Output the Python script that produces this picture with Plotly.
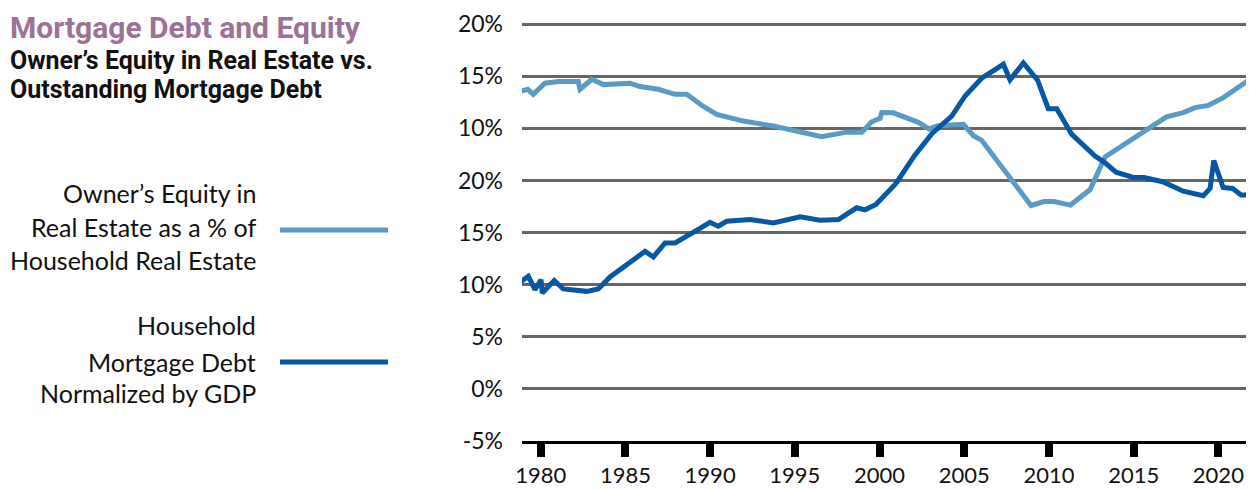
import plotly.graph_objects as go

# Owner's equity share (values on the chart's stacked-label scale)
equity_years = [1978.66, 1979.23, 1979.56, 1980.25, 1981.04, 1982.22, 1982.32, 1983.01,
                1983.70, 1985.27, 1985.86, 1986.94, 1987.93, 1988.62, 1989.58, 1990.39,
                1991.96, 1993.73, 1996.59, 1998.06, 1998.95, 1999.54, 2000.03, 2000.13,
                2000.81, 2002.29, 2002.92, 2003.45, 2004.95, 2005.54, 2006.03, 2008.39,
                2008.94, 2009.71, 2010.30, 2011.27, 2012.43, 2013.31, 2016.94, 2017.93,
                2018.62, 2019.41, 2020.30, 2021.87]
equity_vals = [28.49, 28.75, 28.27, 29.33, 29.49, 29.49, 28.75, 29.71,
               29.20, 29.33, 29.01, 28.75, 28.27, 28.27, 27.12, 26.35,
               25.70, 25.22, 24.20, 24.64, 24.64, 25.63, 25.96, 26.51,
               26.49, 25.58, 24.95, 25.26, 25.38, 24.30, 23.85, 18.65,
               17.60, 17.98, 17.98, 17.64, 19.13, 22.26, 26.11, 26.51,
               26.99, 27.21, 27.95, 29.71]

# Household mortgage debt normalized by GDP
debt_years = [1978.78, 1979.27, 1979.66, 1980.02, 1980.09, 1980.80, 1981.33, 1982.72,
              1983.40, 1984.09, 1986.16, 1986.65, 1987.34, 1987.93, 1989.40, 1989.99,
              1990.48, 1990.98, 1992.36, 1993.73, 1995.31, 1996.49, 1997.57, 1998.65,
              1999.14, 1999.79, 2000.97, 2002.04, 2003.10, 2004.26, 2005.05, 2006.03,
              2007.31, 2007.70, 2008.49, 2009.33, 2009.96, 2010.46, 2011.35, 2012.72,
              2013.31, 2013.96, 2014.98, 2015.61, 2016.71, 2017.93, 2019.11, 2019.51,
              2019.73, 2020.28, 2020.84, 2021.34, 2022.05]
debt_vals = [10.22, 10.80, 9.52, 10.48, 9.20, 10.41, 9.59, 9.36,
             9.59, 10.74, 13.20, 12.66, 14.01, 14.01, 15.40, 15.99,
             15.61, 16.09, 16.25, 15.93, 16.51, 16.18, 16.25, 17.38,
             17.18, 17.69, 19.71, 22.34, 24.52, 26.18, 28.11, 29.81,
             31.15, 29.66, 31.28, 29.62, 26.89, 26.89, 24.42, 22.34,
             21.70, 20.80, 20.29, 20.29, 19.88, 18.97, 18.53, 19.23,
             21.92, 19.33, 19.23, 18.61, 18.61]

y_tickvals = [-5, 0, 5, 10, 15, 20, 25, 30, 35]
y_ticktext = ["-5%", "0%", "5%", "10%", "15%", "20%", "10%", "15%", "20%"]
x_tickvals = [1980, 1985, 1990, 1995, 2000, 2005, 2010, 2015, 2020]

LIGHT = "#5a9ac5"
DARK = "#0857a4"
FONT = "Lato"

# page body adds an 8px offset, so the figure is drawn 8px smaller
OFF = 8
W, H = 1254 - OFF, 489 - OFF
PL, PR, PT, PB = 522, 1247, 20, 441   # plot area on screen
ML, MR, MT, MB = PL - OFF, 1254 - PR, PT - OFF, 489 - PB


def px_x(px):
    return (px - PL) / (PR - PL)


def px_y(py):
    return (PB - py) / (PB - PT)


fig = go.Figure()
fig.add_trace(go.Scatter(x=equity_years, y=equity_vals, mode="lines",
                         line=dict(color=LIGHT, width=5), showlegend=False, hoverinfo="skip"))
fig.add_trace(go.Scatter(x=debt_years, y=debt_vals, mode="lines",
                         line=dict(color=DARK, width=5), showlegend=False, hoverinfo="skip"))

annotations = [
    dict(text="<b>Mortgage Debt and Equity</b>", x=px_x(OFF), y=px_y(OFF), xanchor="left", yanchor="top",
         font=dict(family="Roboto", size=30, color="#9b7395")),
    dict(text="<b>Owner’s Equity in Real Estate vs.</b>", x=px_x(OFF), y=px_y(61), xanchor="left", yanchor="middle",
         font=dict(family="Roboto", size=25, color="#111111")),
    dict(text="<b>Outstanding Mortgage Debt</b>", x=px_x(OFF), y=px_y(89), xanchor="left", yanchor="middle",
         font=dict(family="Roboto", size=25, color="#111111")),
]
legend_lines = [("Owner’s Equity in", 193), ("Real Estate as a % of", 227), ("Household Real Estate", 260),
                ("Household", 325), ("Mortgage Debt", 362), ("Normalized by GDP", 393)]
for txt, py in legend_lines:
    annotations.append(dict(text=txt, x=px_x(258), y=px_y(py), xanchor="right", yanchor="middle",
                            font=dict(family=FONT, size=25, color="#111111")))
for a in annotations:
    a.update(xref="paper", yref="paper", showarrow=False)

shapes = [
    dict(type="line", xref="paper", yref="paper", x0=px_x(280), x1=px_x(388), y0=px_y(230), y1=px_y(230),
         line=dict(color=LIGHT, width=5)),
    dict(type="line", xref="paper", yref="paper", x0=px_x(280), x1=px_x(388), y0=px_y(362), y1=px_y(362),
         line=dict(color=DARK, width=5)),
]

fig.update_layout(
    width=W, height=H,
    margin=dict(l=ML, r=MR, t=MT, b=MB, pad=0, autoexpand=False),
    paper_bgcolor="white", plot_bgcolor="white",
    annotations=annotations, shapes=shapes,
    xaxis=dict(range=[1978.896, 2021.69], tickvals=x_tickvals, showgrid=False, zeroline=False,
               showline=True, linecolor="black", linewidth=3, automargin=False,
               ticks="outside", ticklen=13, tickwidth=8, tickcolor="black",
               ticklabelstandoff=0,
               tickfont=dict(family=FONT, size=22, color="#111111")),
    yaxis=dict(range=[-5, 35.4], tickvals=y_tickvals, ticktext=y_ticktext, automargin=False,
               showgrid=True, gridcolor="#666666", gridwidth=3, zeroline=False,
               ticklabelstandoff=18,
               tickfont=dict(family=FONT, size=23, color="#111111")),
)

fig.write_html("out.html")
